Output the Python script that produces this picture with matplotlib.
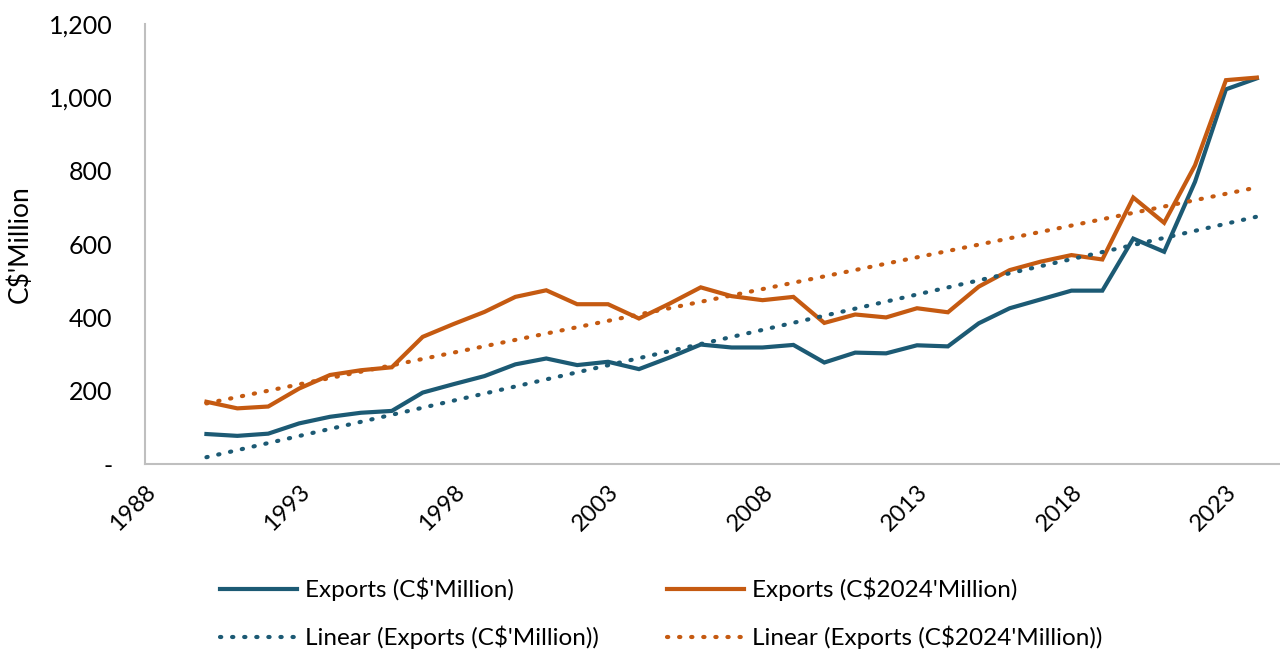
import matplotlib
matplotlib.use('Agg')
import matplotlib.pyplot as plt
import numpy as np

years = np.arange(1990, 2025)
exports_nominal = [82, 77, 83, 111, 129, 140, 145, 195, 218, 240, 272, 288,
                   270, 279, 259, 291, 326, 318, 318, 325, 277, 304, 302, 324,
                   321, 384, 425, 449, 473, 473, 615, 579, 770, 1022, 1052]
exports_real = [170, 152, 157, 206, 243, 256, 264, 347, 382, 415, 456, 474,
                436, 436, 397, 438, 482, 458, 447, 456, 385, 408, 400, 425,
                414, 484, 529, 552, 570, 558, 727, 658, 815, 1047, 1054]
x_ticks = np.arange(1988, 2024, 5)
y_ticks = np.arange(0, 1201, 200)

blue = '#1C5A74'
orange = '#C55A11'

plt.rcParams['font.family'] = ['Lato', 'DejaVu Sans']

fig = plt.figure(figsize=(12.8, 6.5), dpi=100)
ax = fig.add_axes([0.113, 0.286, 0.887, 0.677])

# trendlines, like Excel's linear fit
fit_n = np.polyfit(years, exports_nominal, 1)
fit_r = np.polyfit(years, exports_real, 1)

l1, = ax.plot(years, exports_nominal, color=blue, lw=3, solid_joinstyle='miter')
l2, = ax.plot(years, exports_real, color=orange, lw=3, solid_joinstyle='miter')
l3, = ax.plot(years, np.polyval(fit_n, years), color=blue, lw=3,
              linestyle=(0, (0.3, 2.6)), dash_capstyle='round')
l4, = ax.plot(years, np.polyval(fit_r, years), color=orange, lw=3,
              linestyle=(0, (0.3, 2.6)), dash_capstyle='round')

ax.set_xlim(1988, 2024.75)
ax.set_ylim(0, 1200)
ax.set_xticks(x_ticks)
ax.set_xticklabels([str(y) for y in x_ticks], rotation=45, ha='right',
                   rotation_mode='anchor', fontsize=17)
ax.set_yticks(y_ticks)
ax.set_yticklabels(['-' if v == 0 else f'{v:,}' for v in y_ticks], fontsize=18)
ax.tick_params(axis='y', length=0, pad=23)
ax.tick_params(axis='x', length=0, pad=12)
ax.set_ylabel("C$'Million", fontsize=19, labelpad=12)

for s in ['top', 'right']:
    ax.spines[s].set_visible(False)
for s in ['left', 'bottom']:
    ax.spines[s].set_color('#bfbfbf')
    ax.spines[s].set_linewidth(1.5)

fig.legend([l1, l3, l2, l4],
           ["Exports (C$'Million)", "Linear (Exports (C$'Million))",
            "Exports (C$2024'Million)", "Linear (Exports (C$2024'Million))"],
           ncol=2, loc='upper left', bbox_to_anchor=(0.164, 0.126), frameon=False,
           fontsize=17.5, handlelength=3.2, columnspacing=2.8, labelspacing=1.0,
           handletextpad=0.3, borderaxespad=0)

plt.savefig('out.png', dpi=100)
plt.close()
